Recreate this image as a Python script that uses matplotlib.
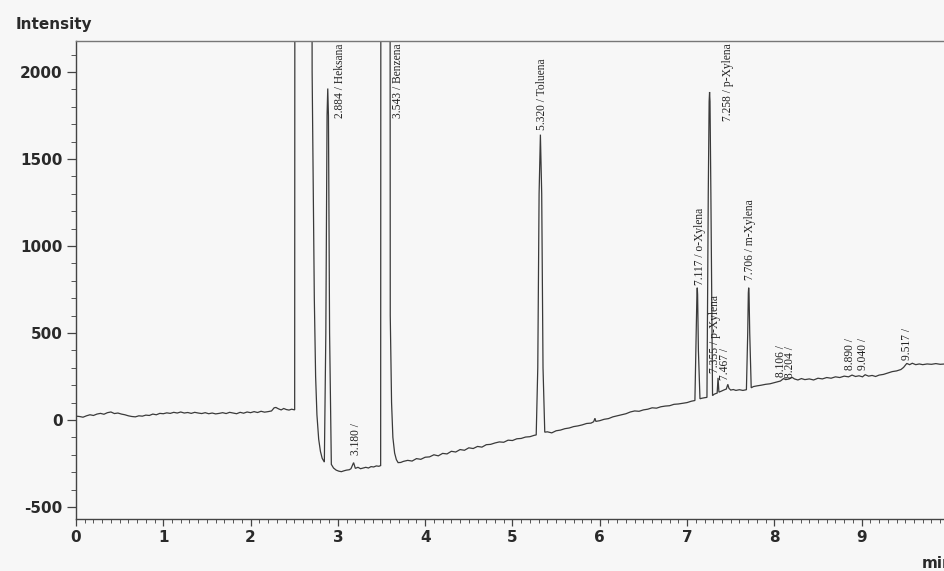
import numpy as np
import matplotlib
matplotlib.use("Agg")
import matplotlib.pyplot as plt
from matplotlib.ticker import MultipleLocator

plt.rcParams["axes.unicode_minus"] = False

# ---------------- data ----------------
# pre-injection baseline
t_pre = [0.00, 0.04, 0.08, 0.12, 0.16, 0.20, 0.24, 0.28, 0.32, 0.36, 0.40, 0.44, 0.48,
         0.52, 0.56, 0.60, 0.64, 0.68, 0.72, 0.76, 0.80, 0.84, 0.88, 0.92, 0.96, 1.00,
         1.04, 1.08, 1.12, 1.16, 1.20, 1.24, 1.28, 1.32, 1.36, 1.40, 1.44, 1.48, 1.52,
         1.56, 1.60, 1.64, 1.68, 1.72, 1.76, 1.80, 1.84, 1.88, 1.92, 1.96, 2.00, 2.04,
         2.08, 2.12, 2.16, 2.20, 2.24, 2.27, 2.29, 2.32, 2.35, 2.38, 2.41, 2.44, 2.47, 2.505]
i_pre = [22, 20, 16, 24, 30, 26, 34, 38, 33, 42, 46, 37, 40,
         34, 30, 24, 20, 18, 24, 22, 28, 26, 34, 30, 38, 36,
         41, 38, 44, 40, 46, 40, 43, 38, 44, 40, 37, 42, 36,
         40, 35, 38, 42, 37, 44, 40, 36, 44, 39, 46, 42, 48,
         43, 50, 45, 48, 52, 70, 72, 64, 58, 66, 60, 57, 62, 58]

# solvent front, Heksana and the 3.180 peak
t_solv = [2.51, 2.695, 2.705, 2.73, 2.745, 2.76, 2.78, 2.80, 2.82, 2.845,
          2.862, 2.876, 2.884, 2.892, 2.905, 2.925, 2.95, 2.98, 3.01, 3.04,
          3.07, 3.10, 3.13, 3.15, 3.165, 3.18, 3.19, 3.20, 3.23, 3.26, 3.29,
          3.32, 3.35, 3.38, 3.41, 3.44, 3.47, 3.49]
i_solv = [6000, 6000, 2000, 700, 250, 30, -110, -180, -220, -242,
          500, 1750, 1905, 1750, 500, -255, -276, -288, -294, -297,
          -292, -288, -286, -280, -262, -245, -262, -278, -272, -280, -276,
          -272, -276, -268, -270, -264, -266, -262]

# Benzena (off scale) and rising baseline to Toluena
t_benz = [3.495, 3.595, 3.600, 3.615, 3.63, 3.65, 3.67, 3.69, 3.72, 3.75, 3.80,
          3.85, 3.90, 3.95, 4.00, 4.05, 4.10, 4.15, 4.20, 4.25, 4.30, 4.35, 4.40,
          4.45, 4.50, 4.55, 4.60, 4.65, 4.70, 4.75, 4.80, 4.85, 4.90, 4.95, 5.00,
          5.05, 5.10, 5.15, 5.20, 5.25, 5.272]
i_benz = [6000, 6000, 600, 100, -100, -190, -228, -245, -244, -238, -232,
          -236, -222, -226, -214, -212, -200, -206, -192, -195, -180, -184, -170,
          -174, -160, -164, -152, -156, -142, -140, -132, -126, -128, -116, -118,
          -108, -106, -98, -96, -88, -86]

# Toluena and baseline to the xylenes
t_tol = [5.29, 5.305, 5.320, 5.335, 5.35, 5.37, 5.40, 5.45, 5.50, 5.55, 5.60, 5.65,
         5.70, 5.75, 5.80, 5.85, 5.90, 5.93, 5.945, 5.955, 6.00, 6.05, 6.10, 6.15,
         6.20, 6.25, 6.30, 6.35, 6.40, 6.45, 6.50, 6.55, 6.60, 6.65, 6.70, 6.75,
         6.80, 6.85, 6.90, 6.95, 7.00, 7.05, 7.09]
i_tol = [300, 1300, 1640, 1300, 300, -70, -68, -74, -62, -58, -50, -46,
         -38, -34, -28, -20, -18, -10, 10, -8, -4, 4, 8, 18,
         24, 30, 36, 46, 52, 50, 58, 62, 70, 68, 76, 80,
         82, 90, 92, 96, 100, 108, 112]

# xylene group
t_xyl = [7.105, 7.113, 7.117, 7.121, 7.13, 7.148, 7.17, 7.20, 7.228, 7.243, 7.253,
         7.258, 7.263, 7.273, 7.292, 7.31, 7.33, 7.345, 7.355, 7.365, 7.39, 7.42,
         7.45, 7.467, 7.48, 7.50, 7.53, 7.56, 7.60, 7.64, 7.68, 7.695, 7.702, 7.706,
         7.710, 7.718, 7.735, 7.76]
i_xyl = [500, 720, 760, 720, 400, 122, 125, 128, 130, 1300, 1830,
         1885, 1830, 1300, 140, 148, 152, 155, 242, 160, 165, 172,
         178, 205, 182, 172, 175, 170, 174, 170, 174, 500, 730, 760,
         730, 500, 185, 192]

# tail of the run
t_tail = [7.80, 7.85, 7.90, 7.95, 8.00, 8.04, 8.07, 8.106, 8.13, 8.17, 8.204, 8.23,
          8.27, 8.31, 8.35, 8.40, 8.45, 8.50, 8.55, 8.60, 8.65, 8.70, 8.75, 8.80,
          8.85, 8.89, 8.93, 8.97, 9.01, 9.04, 9.08, 9.12, 9.16, 9.20, 9.25, 9.30,
          9.35, 9.40, 9.45, 9.48, 9.517, 9.55, 9.58, 9.62, 9.66, 9.70, 9.75, 9.80,
          9.85, 9.90, 9.95, 10.0]
i_tail = [196, 200, 205, 208, 215, 220, 224, 238, 232, 236, 245, 236,
          230, 238, 232, 236, 230, 240, 236, 244, 240, 248, 244, 252,
          248, 258, 250, 254, 248, 260, 252, 256, 250, 258, 262, 270,
          278, 282, 290, 302, 325, 318, 326, 318, 322, 318, 322, 320,
          324, 320, 322, 321]

peak_labels = ["2.884 / Heksana", "3.180 /", "3.543 / Benzena", "5.320 / Toluena",
               "7.117 / o-Xylena", "7.258 / p-Xylena", "7.355 / p-Xylena", "7.467 /",
               "7.706 / m-Xylena", "8.106 /", "8.204 /", "8.890 /", "9.040 /", "9.517 /"]
# label anchor positions (layout)
label_x = [3.02, 3.21, 3.69, 5.34, 7.15, 7.47, 7.325, 7.43, 7.72, 8.08, 8.175, 8.87, 9.01, 9.52]
label_y = [2165, -201, 2165, 1667, 776, 2165, 270, 230, 805, 247, 241, 287, 287, 345]
label_va = ["top", "bottom", "top", "bottom", "bottom", "top", "bottom", "bottom",
            "bottom", "bottom", "bottom", "bottom", "bottom", "bottom"]

time = np.concatenate([t_pre, t_solv, t_benz, t_tol, t_xyl, t_tail])
intensity = np.concatenate([i_pre, i_solv, i_benz, i_tol, i_xyl, i_tail])

# ---------------- figure ----------------
bg = "#f7f7f7"
ink = "#2a2a2a"
fig = plt.figure(figsize=(9.45, 5.71), dpi=100, facecolor=bg)
ax = fig.add_axes([76 / 945, 52 / 571, 869 / 945, 478 / 571], facecolor=bg)

ax.plot(time, intensity, color="#3a3a3a", lw=0.9, solid_joinstyle="miter")

ax.set_xlim(0, 9.955)
ax.set_ylim(-569, 2178)

ax.xaxis.set_major_locator(MultipleLocator(1))
ax.xaxis.set_minor_locator(MultipleLocator(0.1))
ax.yaxis.set_major_locator(MultipleLocator(500))
ax.yaxis.set_minor_locator(MultipleLocator(100))

for s in ["left", "bottom"]:
    ax.spines[s].set_color("#444444")
    ax.spines[s].set_linewidth(1.0)
ax.spines["right"].set_visible(False)
ax.spines["top"].set_color("#777777")
ax.spines["top"].set_linewidth(1.0)
ax.spines["top"].set_linestyle((0, (2, 1)))

ax.tick_params(axis="x", which="major", length=5, width=0.9, color="#444444",
               labelsize=11, labelcolor=ink, pad=3)
ax.tick_params(axis="x", which="minor", length=3, width=0.7, color="#555555")
ax.tick_params(axis="y", which="major", length=6.5, width=0.9, color="#444444",
               labelsize=11, labelcolor=ink, pad=3)
ax.tick_params(axis="y", which="minor", length=3.5, width=0.7, color="#555555")
for lab in ax.get_xticklabels() + ax.get_yticklabels():
    lab.set_fontweight("bold")

for lab, x, y, va in zip(peak_labels, label_x, label_y, label_va):
    ax.text(x, y, lab, rotation=90, ha="center", va=va, fontsize=8.3,
            family="Liberation Serif", color="#222222")

fig.text(16 / 945, 1 - 17 / 571, "Intensity", ha="left", va="top",
         fontsize=11, fontweight="bold", color=ink)
fig.text(922 / 945, 1 - 563 / 571, "min", ha="left", va="center",
         fontsize=11, fontweight="bold", color=ink)

fig.savefig("out.png", dpi=100, facecolor=bg)
